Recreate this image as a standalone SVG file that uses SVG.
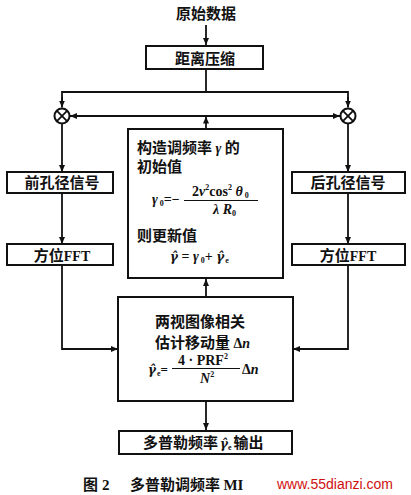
<svg xmlns="http://www.w3.org/2000/svg" width="411" height="495" viewBox="0 0 411 495">
<style>
.box{fill:#fff;stroke:#111;stroke-width:2}
.t{font-family:"Noto Sans CJK SC","Noto Sans CJK TC",sans-serif;font-weight:bold;font-size:15px;fill:#111}
.c{text-anchor:middle}
.m{font-family:"Liberation Serif",serif;font-weight:bold;font-size:14px;fill:#111}
.i{font-style:italic}
.n{font-style:normal}
.g{font-family:"DejaVu Serif",serif;font-weight:bold;font-style:italic;font-size:12px}
.ln{stroke:#111;stroke-width:1.8;fill:none}
.s{font-size:8px}
</style>
<defs>
<marker id="ah" markerUnits="userSpaceOnUse" markerWidth="8" markerHeight="8" refX="7" refY="3" orient="auto">
<path d="M0,0 L7,3 L0,6 z" fill="#111"/>
</marker>
</defs>
<rect width="411" height="495" fill="#fff"/>

<g id="connectors">
<line class="ln" x1="206" y1="25" x2="206" y2="45" marker-end="url(#ah)"/>
<polyline class="ln" points="206,69 206,92"/>
<polyline class="ln" points="62,107 62,92 348,92 348,107"/>
<line class="ln" x1="62" y1="97" x2="62" y2="107.5" marker-end="url(#ah)"/>
<line class="ln" x1="348" y1="97" x2="348" y2="107.5" marker-end="url(#ah)"/>
<line class="ln" x1="206" y1="116" x2="70" y2="116" marker-end="url(#ah)"/>
<line class="ln" x1="206" y1="116" x2="340" y2="116" marker-end="url(#ah)"/>
<line class="ln" x1="206" y1="129" x2="206" y2="116.5" marker-end="url(#ah)"/>
<line class="ln" x1="62" y1="124" x2="62" y2="172" marker-end="url(#ah)"/>
<line class="ln" x1="348" y1="124" x2="348" y2="172" marker-end="url(#ah)"/>
<line class="ln" x1="62" y1="193" x2="62" y2="244" marker-end="url(#ah)"/>
<line class="ln" x1="348" y1="193" x2="348" y2="244" marker-end="url(#ah)"/>
<polyline class="ln" points="62,265 62,349 118,349" marker-end="url(#ah)"/>
<polyline class="ln" points="348,265 348,349 293,349" marker-end="url(#ah)"/>
<line class="ln" x1="206" y1="297" x2="206" y2="279" marker-end="url(#ah)"/>
<line class="ln" x1="206" y1="401" x2="206" y2="430" marker-end="url(#ah)"/>
</g>

<g id="src">
<text class="t c" x="206" y="19">原始数据</text>
</g>

<g id="range">
<rect class="box" x="146" y="46" width="117" height="23"/>
<text class="t c" x="205" y="64">距离压缩</text>
</g>

<g id="mixL">
<circle class="box" cx="62" cy="116" r="7.5"/>
<path class="ln" stroke-width="1.5" d="M56.7,110.7 L67.3,121.3 M67.3,110.7 L56.7,121.3"/>
</g>
<g id="mixR">
<circle class="box" cx="348" cy="116" r="7.5"/>
<path class="ln" stroke-width="1.5" d="M342.7,110.7 L353.3,121.3 M353.3,110.7 L342.7,121.3"/>
</g>

<g id="front">
<rect class="box" x="7" y="172" width="106" height="21"/>
<text class="t c" x="62" y="188">前孔径信号</text>
</g>
<g id="back">
<rect class="box" x="292" y="172" width="113" height="21"/>
<text class="t c" x="348" y="188">后孔径信号</text>
</g>
<g id="fftL">
<rect class="box" x="7" y="244" width="106" height="21"/>
<text class="t c" x="62" y="261">方位<tspan font-family="Liberation Serif" font-size="14">FFT</tspan></text>
</g>
<g id="fftR">
<rect class="box" x="292" y="244" width="113" height="21"/>
<text class="t c" x="348" y="261">方位<tspan font-family="Liberation Serif" font-size="14">FFT</tspan></text>
</g>

<g id="init">
<rect class="box" x="128" y="129" width="155" height="149"/>
<text class="t" x="137" y="153">构造调频率 <tspan class="m i">γ</tspan> 的</text>
<text class="t" x="137" y="172">初始值</text>
<text class="m" x="152" y="204"><tspan class="i">γ</tspan><tspan class="s" dy="2"> 0</tspan><tspan dy="-2">=−</tspan></text>
<line x1="184" y1="200.5" x2="258" y2="200.5" stroke="#111" stroke-width="1.2"/>
<text class="m" x="192" y="196">2<tspan class="i">v</tspan><tspan class="s" dy="-6">2</tspan><tspan dy="6">cos</tspan><tspan class="s" dy="-6">2</tspan><tspan class="i" dy="6"> θ</tspan><tspan class="s" dy="2"> 0</tspan></text>
<text class="m i" x="213" y="214">λ R<tspan class="s n" dy="2">0</tspan></text>
<text class="t" x="137" y="241">则更新值</text>
<text class="m" x="170" y="261"><tspan class="g">γ̂</tspan> = <tspan class="i">γ</tspan><tspan class="s" dy="2"> 0</tspan><tspan dy="-2">+ </tspan><tspan class="g">γ̂</tspan><tspan class="s" dx="1" dy="2">e</tspan></text>
</g>

<g id="corr">
<rect class="box" x="118" y="297" width="175" height="104"/>
<text class="t" x="155" y="327">两视图像相关</text>
<text class="t" x="155" y="348">估计移动量 <tspan class="m">Δ</tspan><tspan class="m i">n</tspan></text>
<text class="m" x="148" y="374"><tspan class="g">γ̂</tspan><tspan class="s" dx="1" dy="2">e</tspan><tspan dy="-2" font-size="13">=</tspan></text>
<line x1="172" y1="368.5" x2="240" y2="368.5" stroke="#111" stroke-width="1.2"/>
<text class="m" x="178" y="365">4 · PRF<tspan class="s" dy="-6">2</tspan></text>
<text class="m" x="200" y="383"><tspan class="i">N</tspan><tspan class="s" dy="-6">2</tspan></text>
<text class="m" x="242" y="374">Δ<tspan class="i">n</tspan></text>
</g>

<g id="out">
<rect class="box" x="119" y="431" width="173" height="23"/>
<text class="t" x="143" y="448">多普勒频率<tspan class="g" font-size="11" dx="2">γ̂</tspan><tspan class="m s" dy="2">e</tspan><tspan dx="2" dy="-2">输出</tspan></text>
</g>

<g id="caption">
<text class="t" x="83" y="490">图<tspan font-family="Liberation Serif" dx="4">2</tspan></text>
<text class="t" x="130" y="490">多普勒调频率 <tspan font-family="Liberation Serif">MI</tspan></text>
<text x="277" y="489" font-family="Liberation Sans,sans-serif" font-size="14" fill="#d01010">www.55dianzi.com</text>
</g>
</svg>
